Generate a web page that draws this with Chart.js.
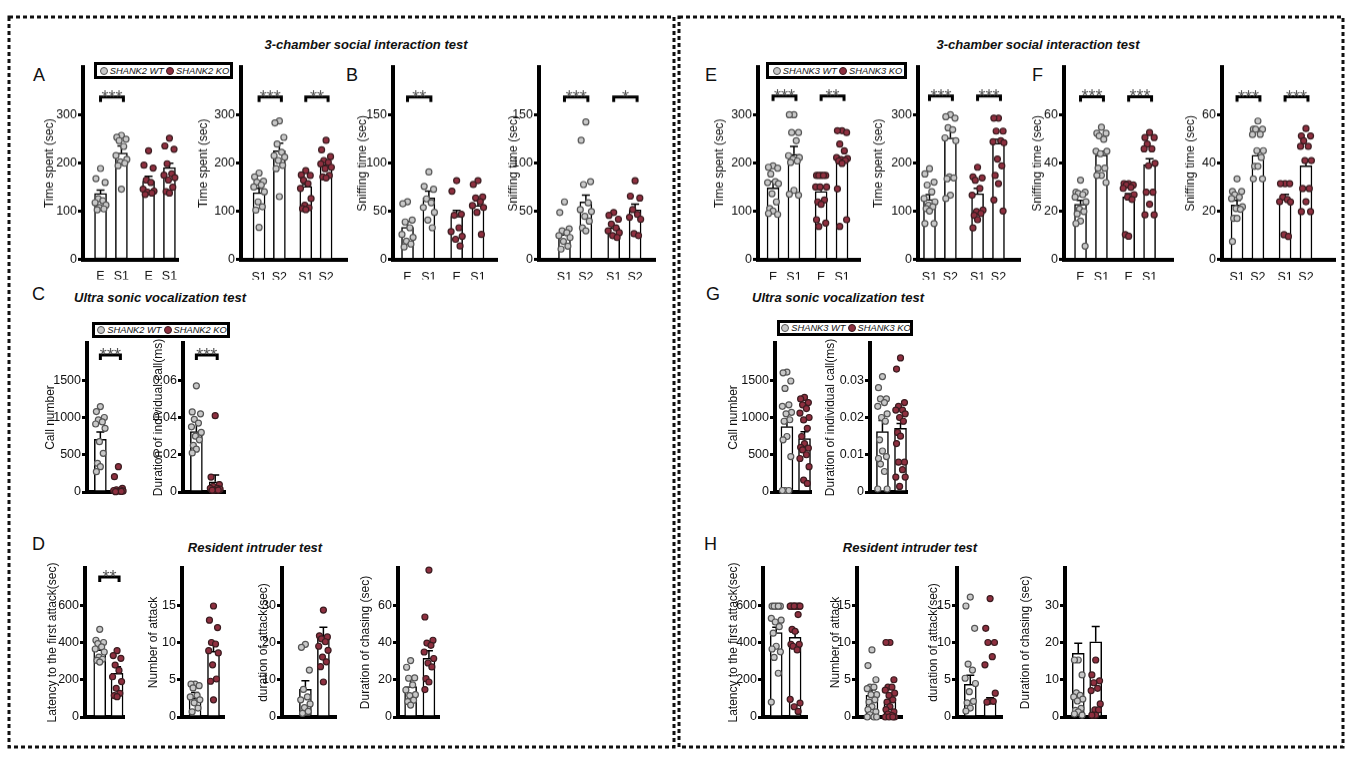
<!DOCTYPE html>
<html>
<head>
<meta charset="utf-8">
<script src="https://cdn.jsdelivr.net/npm/chart.js@4.4.0/dist/chart.umd.min.js"></script>
<style>
body{margin:0;background:#fff;width:1356px;height:761px;position:relative;overflow:hidden;font-family:"Liberation Sans",Arial,sans-serif;color:#111}
.abs{position:absolute}
.title{position:absolute;font-weight:bold;font-style:italic;font-size:13px;transform:translate(-50%,-50%);white-space:nowrap}
.letter{position:absolute;font-size:18px;line-height:1}
.legend{position:absolute;border:3px solid #000;box-sizing:border-box;display:flex;align-items:center;justify-content:center;font-style:italic;font-size:9.3px;line-height:10px;white-space:nowrap}
.dot{display:inline-block;flex:0 0 auto;width:8px;height:8px;border-radius:50%;box-sizing:border-box;margin:0 2px 0 2px}
.dot.wt{background:#c8c8c8;border:1.5px solid #555}
.dot.ko{background:#8e2f3f;border:1.5px solid #3b1c20}
</style>
</head>
<body>
<svg class="abs" width="1356" height="761" style="left:0;top:0">
  <rect x="9" y="17" width="665" height="730" fill="none" stroke="#111" stroke-width="3" stroke-dasharray="4 3"/>
  <rect x="679" y="17" width="664" height="730" fill="none" stroke="#111" stroke-width="3" stroke-dasharray="4 3"/>
</svg>

<div class="title" style="left:366px;top:44px">3-chamber social interaction test</div>
<div class="title" style="left:1038px;top:44px">3-chamber social interaction test</div>
<div class="title" style="left:160px;top:297px">Ultra sonic vocalization test</div>
<div class="title" style="left:838px;top:297px">Ultra sonic vocalization test</div>
<div class="title" style="left:255px;top:547px">Resident intruder test</div>
<div class="title" style="left:910px;top:547px">Resident intruder test</div>

<div class="letter" style="left:33px;top:66px">A</div>
<div class="letter" style="left:346px;top:66px">B</div>
<div class="letter" style="left:705px;top:66px">E</div>
<div class="letter" style="left:1032px;top:66px">F</div>
<div class="letter" style="left:32px;top:285px">C</div>
<div class="letter" style="left:706px;top:285px">G</div>
<div class="letter" style="left:32px;top:535px">D</div>
<div class="letter" style="left:704px;top:535px">H</div>

<div class="legend" style="left:94px;top:62px;width:139px;height:17px"><span class="dot wt"></span>SHANK2 WT<span class="dot ko"></span>SHANK2 KO</div>
<div class="legend" style="left:766px;top:62px;width:141px;height:17px"><span class="dot wt"></span>SHANK3 WT<span class="dot ko"></span>SHANK3 KO</div>
<div class="legend" style="left:92px;top:322px;width:138px;height:16px"><span class="dot wt"></span>SHANK2 WT<span class="dot ko"></span>SHANK2 KO</div>
<div class="legend" style="left:777px;top:320px;width:136px;height:16px"><span class="dot wt"></span>SHANK3 WT<span class="dot ko"></span>SHANK3 KO</div>

<script>
// === DATA ===
const esLabels = ['E', 'S1', 'E', 'S1'];
const ssLabels = ['S1', 'S2', 'S1', 'S2'];

// 3-chamber, SHANK2
const a1Mean = [137, 221, 163, 191];
const a1Sem = [7, 15, 10, 9];
const a1Pts = [[189,168,160,126,122,118,113,108,105,103],[258,254,250,247,235,216,208,203,200,195,146],[226,196,190,165,160,146,142,140,138,135],[252,236,229,199,178,175,170,165,150,141,138]];
const a2Mean = [139, 226, 152, 197];
const a2Sem = [9, 16, 4, 7];
const a2Pts = [[180,172,163,161,155,151,141,120,110,103,67],[288,284,254,240,223,216,213,206,196,189,131],[185,176,175,165,158,148,127,113,108,106,104],[248,228,214,206,202,199,192,189,175,172,170]];
const b1Mean = [33.5, 64, 45, 56];
const b1Sem = [6, 7, 6, 5];
const b1Pts = [[60,58,41,39,33,26,23,19,16,13],[91,76,73,63,59,54,49,41,33],[82,71,47,46,33,29,24,21,14],[82,78,65,64,60,56,54,49,26]];
const b2Mean = [26, 60, 33, 51.6];
const b2Sem = [3.5, 7, 2.5, 6];
const b2Pts = [[60,49,32,30,28,25,23,19,14,11],[143,124,81,78,59,52,50,45,40,33,30],[49,46,42,37,33,30,28,25,23],[82,66,64,52,47,44,42,27,25]];

// 3-chamber, SHANK3
const e1Mean = [149, 219, 142, 202];
const e1Sem = [13, 16, 7, 10];
const e1Pts = [[195,192,190,178,162,160,158,137,120,106,101,96,94],[301,301,264,264,247,216,212,209,205,202,144,136,134],[175,175,175,175,175,151,151,151,124,120,115,83,76,69],[268,268,264,240,226,212,210,208,206,205,200,147,83,69]];
const e2Mean = [125, 253, 137, 242];
const e2Sem = [10, 16, 11, 8];
const e2Pts = [[189,178,161,155,141,127,120,113,110,106,101,75,75],[301,297,294,274,270,253,247,172,170,168,134,127],[192,172,170,165,148,134,103,100,96,92,83,66],[294,294,267,267,247,245,243,209,195,175,158,124,101]];
const f1Mean = [23, 43.5, 26, 39.5];
const f1Sem = [1.6, 1.5, 1.4, 2.4];
const f1Pts = [[33,28,28,27.5,27,26,24,21,20,19,16,15,5.6],[55,52.5,52.5,51.4,50,45,45,44,38,38,35,35,32],[31.6,31.6,31,31,30,29.6,27,26,25,10.4,9.7],[52.8,50.7,50.7,48,46,46,40,39,28,28,23,18.6,18.6]];
const f2Mean = [22.7, 43.4, 25.4, 39];
const f2Sem = [2, 1.7, 1.8, 2];
const f2Pts = [[33.6,28.4,28.4,27,26,25.4,22,21.3,21,17.2,17.2,7.6],[57.6,54.2,54.2,54.2,52.1,52,45.3,45.3,42.5,38.8,38.8,33.6,33.6],[31.6,31.6,31.6,26,25,24.1,24,10.4,9.7],[54.5,51.4,51.4,49.4,47.1,47.1,41.2,41.2,29.6,29.6,24.1,20,20]];

// ultrasonic vocalization
const c1Mean = [707, 27];
const c1Sem = [100, 12];
const c1Pts = [[1146,1079,1000,967,940,913,855,676,519,385,340,273],[340,206,50,30,27,20,15,10,8,5]];
const c2Mean = [0.0324, 0.0055];
const c2Sem = [0.0054, 0.0036];
const c2Pts = [[0.057,0.043,0.042,0.039,0.037,0.035,0.032,0.03,0.028,0.025,0.023,0.021],[0.041,0.008,0.004,0.003,0.002,0.002,0.0015,0.001,0.001,0.001]];
const g1Mean = [877, 716];
const g1Sem = [98, 94];
const g1Pts = [[1610,1600,1490,1390,1170,1150,1070,1050,970,950,745,700,475,20,20,20],[1270,1250,1200,1170,1120,1060,1000,967,855,745,650,600,590,565,500,450,340,160,115]];
const g2Mean = [0.0162, 0.0171];
const g2Sem = [0.003, 0.0013];
const g2Pts = [[0.031,0.028,0.025,0.025,0.024,0.023,0.021,0.02,0.019,0.014,0.011,0.009,0.0095,0.0075,0.0055,0.0008,0.0008],[0.036,0.033,0.024,0.023,0.022,0.022,0.021,0.02,0.019,0.016,0.015,0.013,0.008,0.008,0.006,0.004,0.004,0.0015]];

// resident intruder
const d1Mean = [360, 235];
const d1Sem = [36, 35];
const d1Pts = [[471,412,400,394,376,365,349,322,310,304,295],[356,330,315,279,250,216,190,154,127,115,109]];
const d2Mean = [2.5, 8.8];
const d2Sem = [0.8, 1.1];
const d2Pts = [[4.4,4.4,4.2,3.9,2.9,2.7,2.3,1.9,1.2,0.7],[14.9,13,12,10,9.8,8.9,8.6,7,5.1,4.8,2.3]];
const d3Mean = [7.4, 21.1];
const d3Sem = [2.3, 3];
const d3Pts = [[19.5,18.7,12.6,7.4,5.4,4.6,3.5,2.5,1.5,1],[28.7,21.8,21.5,21,20.2,19,17.9,16.1,14.8,13.5,9.4]];
const d4Mean = [16.3, 31.5];
const d4Sem = [4.6, 4.1];
const d4Pts = [[30.3,26.7,21,20.8,17.2,14.5,12,11.5,9,8.3,6.4],[78.9,53.7,41.2,39.7,38.5,34.9,31.4,29,26.9,20.6,18.8,14.7]];
const h1Mean = [453, 428];
const h1Sem = [29, 28];
const h1Pts = [[595,595,595,595,595,530,520,510,485,450,380,365,350,320,235,80],[595,595,595,595,595,595,595,595,550,470,460,390,390,380,360,95,75,55,30]];
const h2Mean = [2.9, 2.05];
const h2Sem = [0.75, 0.6];
const h2Pts = [[9,6.9,5,4,4,3.8,3,3,2.3,2,1.4,1,0.7,0.3,0,0,0],[10,10,5,4,4,3.6,3.2,2.9,2.3,2,1.4,1,0.7,0.4,0.2,0,0,0,0]];
const h3Mean = [4.4, 1.9];
const h3Sem = [1.2, 0.7];
const h3Pts = [[16.1,14.9,11.9,7.1,6.3,5.2,4.5,3.4,2.1,1.9,1.2,0.8],[15.9,11.9,10,10,8.1,7,3.2,2.1,2.1,2]];
const h4Mean = [17.1, 20.2];
const h4Sem = [2.7, 4.1];
const h4Pts = [[15.3,15.3,11.3,6.5,5.8,5.4,4.8,4.3,2.3,1.8,1.4,0.8,0.5],[15.3,11.3,9.7,9.2,7.7,7.1,3.5,1.9,1.9,0.5,0.5,0.5]];

// === LAYOUT ===
const quadPos = [0, 1, 2.3, 3.3];
const pairPos = [0, 1];
const jit = [0, -0.22, 0.22, -0.11, 0.11, -0.26, 0.26, -0.05, 0.16, -0.16];
const WT = { fill: '#c8c8c8', line: '#555' };
const KO = { fill: '#8e2f3f', line: '#3b1c20' };
const FONT = '"Liberation Sans", Arial, sans-serif';

const row1 = { T: 67, B: 262 };
const row2 = { T: 343, B: 492 };
const row3 = { T: 568, B: 717 };

const specs = [
  { L: 83, R: 178, ...row1, xr: [-0.84, 3.71], max: 400, step: 100, yt: 'Time spent (sec)', td: 34, labels: esLabels, mean: a1Mean, sem: a1Sem, pts: a1Pts, br: [[0, 1, '***']], brY: 338 },
  { L: 241, R: 347, ...row1, xr: [-0.89, 4.33], max: 400, step: 100, yt: 'Time spent (sec)', td: 38, labels: ssLabels, mean: a2Mean, sem: a2Sem, pts: a2Pts, br: [[0, 1, '***'], [2, 3, '**']], brY: 338 },
  { L: 393, R: 497, ...row1, xr: [-0.68, 4.19], max: 200, step: 50, yt: 'Sniffing time (sec)', td: 31, labels: esLabels, mean: b1Mean, sem: b1Sem, pts: b1Pts, br: [[0, 1, '**']], brY: 169 },
  { L: 539, R: 655, ...row1, xr: [-1.19, 4.23], max: 200, step: 50, yt: 'Sniffing time (sec)', td: 26, labels: ssLabels, mean: b2Mean, sem: b2Sem, pts: b2Pts, br: [[0, 1, '***'], [2, 3, '*']], brY: 169 },
  { L: 758, R: 860, ...row1, xr: [-0.72, 4.16], max: 400, step: 100, yt: 'Time spent (sec)', td: 39, labels: esLabels, mean: e1Mean, sem: e1Sem, pts: e1Pts, br: [[0, 1, '***'], [2, 3, '**']], brY: 340 },
  { L: 918, R: 1020, ...row1, xr: [-0.55, 4.33], max: 400, step: 100, yt: 'Time spent (sec)', td: 40, labels: ssLabels, mean: e2Mean, sem: e2Sem, pts: e2Pts, br: [[0, 1, '***'], [2, 3, '***']], brY: 340 },
  { L: 1064, R: 1173, ...row1, xr: [-0.79, 4.42], max: 80, step: 20, yt: 'Sniffing time (sec)', td: 27, labels: esLabels, mean: f1Mean, sem: f1Sem, pts: f1Pts, br: [[0, 1, '***'], [2, 3, '***']], brY: 67.7 },
  { L: 1222, R: 1335, ...row1, xr: [-0.72, 4.69], max: 80, step: 20, yt: 'Sniffing time (sec)', td: 32, labels: ssLabels, mean: f2Mean, sem: f2Sem, pts: f2Pts, br: [[0, 1, '***'], [2, 3, '***']], brY: 67.7 },

  { L: 87, R: 130, ...row2, xr: [-0.74, 1.31], max: 2000, step: 500, yt: 'Call number', td: 37, mean: c1Mean, sem: c1Sem, pts: c1Pts, br: [[0, 1, '***']], brY: 1839 },
  { L: 183, R: 230, ...row2, xr: [-0.71, 1.52], max: 0.08, step: 0.02, yt: 'Duration of individual call(ms)', td: 25, mean: c2Mean, sem: c2Sem, pts: c2Pts, br: [[0, 1, '***']], brY: 0.0735 },
  { L: 775, R: 817, ...row2, xr: [-0.68, 1.37], max: 2000, step: 500, yt: 'Call number', td: 42, mean: g1Mean, sem: g1Sem, pts: g1Pts },
  { L: 870, R: 913, ...row2, xr: [-0.69, 1.36], max: 0.04, step: 0.01, yt: 'Duration of individual call(ms)', td: 40, mean: g2Mean, sem: g2Sem, pts: g2Pts },

  { L: 85, R: 130, ...row3, xr: [-0.85, 1.4], max: 800, step: 200, yt: 'Latency to the first attack(sec)', td: 33, mean: d1Mean, sem: d1Sem, pts: d1Pts, br: [[0, 1, '**']], brY: 752 },
  { L: 182, R: 230, ...row3, xr: [-0.71, 1.57], max: 20, step: 5, yt: 'Number of attack', td: 29, mean: d2Mean, sem: d2Sem, pts: d2Pts },
  { L: 282, R: 342, ...row3, xr: [-1.3, 1.7], max: 40, step: 10, yt: 'duration of attack(sec)', td: 19, mean: d3Mean, sem: d3Sem, pts: d3Pts },
  { L: 398, R: 445, ...row3, xr: [-0.69, 1.55], max: 80, step: 20, yt: 'Duration of chasing (sec)', td: 33, mean: d4Mean, sem: d4Sem, pts: d4Pts },
  { L: 763, R: 813, ...row3, xr: [-0.7, 1.63], max: 800, step: 200, yt: 'Latency to the first attack(sec)', td: 30, mean: h1Mean, sem: h1Sem, pts: h1Pts },
  { L: 857, R: 907, ...row3, xr: [-0.83, 1.67], max: 20, step: 5, yt: 'Number of attack', td: 22, mean: h2Mean, sem: h2Sem, pts: h2Pts },
  { L: 957, R: 1008, ...row3, xr: [-0.67, 1.6], max: 20, step: 5, yt: 'duration of attack(sec)', td: 24, mean: h3Mean, sem: h3Sem, pts: h3Pts },
  { L: 1065, R: 1113, ...row3, xr: [-0.76, 1.59], max: 40, step: 10, yt: 'Duration of chasing (sec)', td: 40, mean: h4Mean, sem: h4Sem, pts: h4Pts }
];

function fmtTick(v, step) {
  if (v === 0) return '0';
  return step < 1 ? v.toFixed(2) : String(Math.round(v));
}

// === BUILD ONE PANEL ===
function build(c) {
  const wrap = document.createElement('div');
  wrap.className = 'abs';
  const cv = document.createElement('canvas');
  const W = c.td + 7;
  cv.width = (c.R - c.L) + W + 10;
  cv.height = (c.B - c.T) + 60;
  wrap.appendChild(cv);
  document.body.appendChild(wrap);

  const pos = c.mean.length === 4 ? quadPos : pairPos;
  const cols = c.mean.length === 4 ? [WT, WT, KO, KO] : [WT, KO];

  const datasets = [{
    type: 'bar',
    data: c.mean.map((m, i) => ({ x: pos[i], y: m })),
    backgroundColor: '#fff',
    borderColor: '#000',
    borderWidth: 1.5,
    borderSkipped: false,
    barThickness: 12,
    order: 2
  }];
  c.pts.forEach((arr, i) => {
    datasets.push({
      type: 'scatter',
      data: arr.map((v, j) => ({ x: pos[i] + jit[j % jit.length], y: v })),
      backgroundColor: cols[i].fill,
      borderColor: cols[i].line,
      borderWidth: 1.2,
      pointRadius: 3,
      clip: false,
      order: 1
    });
  });

  const extras = {
    id: 'extras',
    afterDatasetDraw(chart, args) {
      if (args.index !== 0) return;
      const { ctx, scales: { x, y } } = chart;
      ctx.save();
      ctx.strokeStyle = '#000';
      ctx.lineWidth = 1.5;
      c.mean.forEach((m, i) => {
        const px = x.getPixelForValue(pos[i]);
        const y0 = y.getPixelForValue(m);
        const y1 = y.getPixelForValue(m + c.sem[i]);
        ctx.beginPath();
        ctx.moveTo(px, y0); ctx.lineTo(px, y1);
        ctx.moveTo(px - 4, y1); ctx.lineTo(px + 4, y1);
        ctx.stroke();
      });
      ctx.restore();
    },
    afterDraw(chart) {
      if (!c.br) return;
      const { ctx, scales: { x, y } } = chart;
      const py = y.getPixelForValue(c.brY);
      ctx.save();
      ctx.strokeStyle = '#000';
      ctx.lineWidth = 3;
      ctx.fillStyle = '#555';
      ctx.font = '18px ' + FONT;
      ctx.textAlign = 'center';
      ctx.textBaseline = 'alphabetic';
      c.br.forEach(([a, b, t]) => {
        const xa = x.getPixelForValue(pos[a]);
        const xb = x.getPixelForValue(pos[b]) + 2;
        ctx.beginPath();
        ctx.moveTo(xa, py + 5); ctx.lineTo(xa, py); ctx.lineTo(xb, py); ctx.lineTo(xb, py + 5);
        ctx.stroke();
        ctx.fillText(t, (xa + xb) / 2, py + 6);
      });
      ctx.restore();
    }
  };

  const chart = new Chart(cv, {
    type: 'bar',
    data: { datasets },
    options: {
      responsive: false,
      animation: false,
      events: [],
      layout: { padding: { top: 20, right: 8, left: 0, bottom: 20 } },
      plugins: { legend: { display: false }, tooltip: { enabled: false } },
      scales: {
        x: {
          type: 'linear',
          min: c.xr[0],
          max: c.xr[1],
          offset: false,
          afterBuildTicks: s => { s.ticks = pos.map(v => ({ value: v })); },
          afterFit: s => { s.height = c.labels ? 20 : 4; },
          ticks: {
            display: !!c.labels,
            autoSkip: false,
            maxRotation: 0,
            padding: 2,
            color: '#111',
            font: { family: FONT, size: 12.5 },
            callback: (v, i) => (c.labels ? c.labels[i] : '')
          },
          grid: { display: false },
          border: { color: '#000', width: 4 }
        },
        y: {
          min: 0,
          max: c.max,
          afterBuildTicks: s => { s.ticks = s.ticks.filter(t => t.value < c.max - 1e-9); },
          afterFit: s => { s.width = W; },
          ticks: {
            stepSize: c.step,
            padding: 1,
            color: '#111',
            font: { family: FONT, size: 12.5 },
            callback: v => fmtTick(v, c.step)
          },
          grid: { drawOnChartArea: false, drawTicks: true, tickLength: 5, tickWidth: 3, tickColor: '#000' },
          border: { color: '#000', width: 4 },
          title: {
            display: true,
            text: c.yt,
            color: '#111',
            padding: 0,
            font: { family: FONT, size: 12 }
          }
        }
      }
    },
    plugins: [extras]
  });

  // fit the plot area onto the measured box
  let a = chart.chartArea;
  const dw = (c.R - c.L) - (a.right - a.left);
  const dh = (c.B - c.T) - (a.bottom - a.top);
  if (Math.abs(dw) > 0.1 || Math.abs(dh) > 0.1) {
    chart.resize(chart.width + dw, chart.height + dh);
    a = chart.chartArea;
  }
  wrap.style.left = (c.L - a.left) + 'px';
  wrap.style.top = (c.T - a.top) + 'px';
}

specs.forEach(build);
</script>
</body>
</html>
